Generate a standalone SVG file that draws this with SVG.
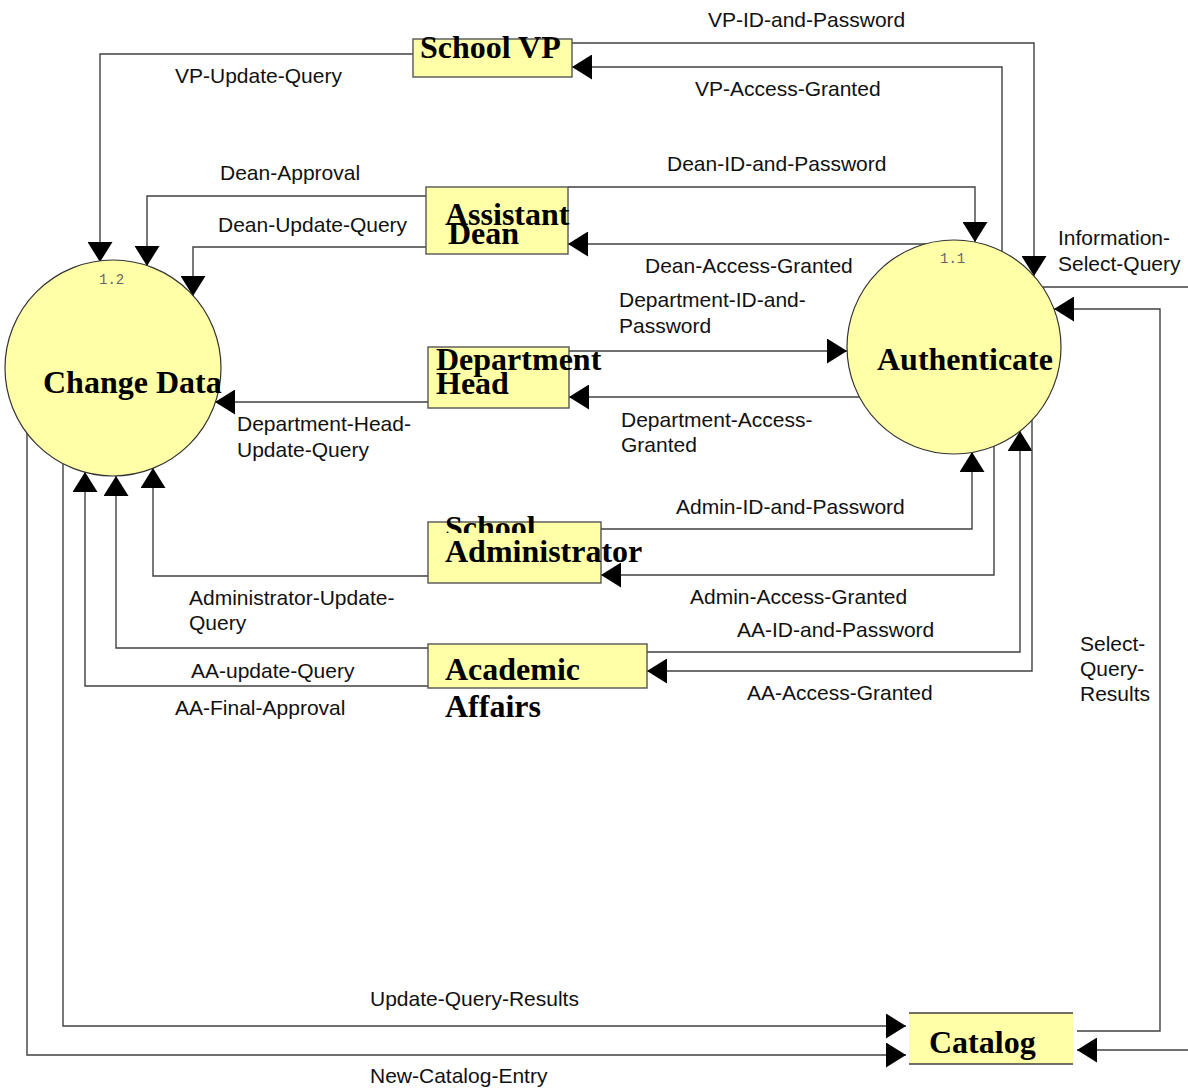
<svg xmlns="http://www.w3.org/2000/svg" width="1188" height="1091" viewBox="0 0 1188 1091">
  <style>
    .flow { fill: none; stroke: #404040; stroke-width: 1.4; marker-end: url(#head); }
    .line { fill: none; stroke: #404040; stroke-width: 1.4; }
    .box { fill: #ffffa8; stroke: #555; stroke-width: 1.4; }
    .proc { fill: #ffffa8; stroke: #333; stroke-width: 1.2; }
    .store { fill: #ffffa8; }
    .lbl { font-family: "Liberation Sans", Arial, sans-serif; font-size: 21px; fill: #111; }
    .name { font-family: "Liberation Serif", "Times New Roman", serif; font-size: 32px; font-weight: bold; fill: #000; }
    .num { font-family: "Liberation Mono", "Courier New", monospace; font-size: 14px; fill: #666; }
  </style>
  <defs>
    <marker id="head" viewBox="0 0 20 25" refX="20" refY="12.5" markerWidth="20" markerHeight="25" markerUnits="userSpaceOnUse" orient="auto">
      <path d="M0,0 L20,12.5 L0,25 z" fill="#000"/>
    </marker>
    <!-- the upper word of the administrator box is hidden below its second line -->
    <clipPath id="schoolClip">
      <rect x="420" y="480" width="200" height="53"/>
    </clipPath>
  </defs>

  <rect width="1188" height="1091" fill="#fff"/>

  <!-- data flows -->
  <g id="connectors">
    <polyline class="flow" points="413,54 100,54 100,262"/>
    <polyline class="flow" points="572,43 1034,43 1034,276"/>
    <polyline class="flow" points="1002,252 1002,67 572,67"/>
    <polyline class="flow" points="426,196 147,196 147,266"/>
    <polyline class="flow" points="426,247 193,247 193,296"/>
    <polyline class="flow" points="568,187 975,187 975,242"/>
    <polyline class="flow" points="926,244 568,244"/>
    <polyline class="flow" points="569,351 847,351"/>
    <polyline class="flow" points="859,397 569,397"/>
    <polyline class="flow" points="428,402 215,402"/>
    <polyline class="flow" points="601,529 972,529 972,452"/>
    <polyline class="flow" points="994,446 994,575 601,575"/>
    <polyline class="flow" points="428,576 153,576 153,468"/>
    <polyline class="flow" points="647,652 1020,652 1020,431"/>
    <polyline class="flow" points="1032,420 1032,671 647,671"/>
    <polyline class="flow" points="428,648 116,648 116,476"/>
    <polyline class="flow" points="428,686 85,686 85,472"/>
    <polyline class="flow" points="63,464 63,1026 906,1026"/>
    <polyline class="flow" points="27,433 27,1055 906,1055"/>
    <polyline class="flow" points="1077,1031 1160,1031 1160,309 1054,309"/>
    <polyline class="line" points="1043,287 1188,287"/>
    <polyline class="flow" points="1188,1050 1077,1050"/>
  </g>

  <!-- flow labels -->
  <g id="flow-labels" class="lbl">
    <text x="708" y="27">VP-ID-and-Password</text>
    <text x="175" y="83">VP-Update-Query</text>
    <text x="695" y="96">VP-Access-Granted</text>
    <text x="220" y="180">Dean-Approval</text>
    <text x="667" y="171">Dean-ID-and-Password</text>
    <text x="218" y="232">Dean-Update-Query</text>
    <text x="645" y="273">Dean-Access-Granted</text>
    <text x="1058" y="245">Information-</text>
    <text x="1058" y="271">Select-Query</text>
    <text x="619" y="307">Department-ID-and-</text>
    <text x="619" y="333">Password</text>
    <text x="237" y="431">Department-Head-</text>
    <text x="237" y="457">Update-Query</text>
    <text x="621" y="427">Department-Access-</text>
    <text x="621" y="452">Granted</text>
    <text x="676" y="514">Admin-ID-and-Password</text>
    <text x="189" y="605">Administrator-Update-</text>
    <text x="189" y="630">Query</text>
    <text x="690" y="604">Admin-Access-Granted</text>
    <text x="737" y="637">AA-ID-and-Password</text>
    <text x="191" y="678">AA-update-Query</text>
    <text x="747" y="700">AA-Access-Granted</text>
    <text x="175" y="715">AA-Final-Approval</text>
    <text x="1080" y="651">Select-</text>
    <text x="1080" y="676">Query-</text>
    <text x="1080" y="701">Results</text>
    <text x="370" y="1006">Update-Query-Results</text>
    <text x="370" y="1083">New-Catalog-Entry</text>
  </g>

  <!-- processes -->
  <g id="change-data">
    <circle class="proc" cx="113" cy="368" r="108"/>
    <text class="num" x="99" y="284">1.2</text>
    <text class="name" x="43" y="393">Change Data</text>
  </g>
  <g id="authenticate">
    <circle class="proc" cx="954" cy="347" r="107"/>
    <text class="num" x="940" y="263">1.1</text>
    <text class="name" x="877" y="370">Authenticate</text>
  </g>

  <!-- external entities -->
  <g id="school-vp">
    <rect class="box" x="413" y="39" width="159" height="38"/>
    <text class="name" x="420" y="58">School VP</text>
  </g>
  <g id="assistant-dean">
    <rect class="box" x="426" y="187" width="142" height="67"/>
    <text class="name" x="445" y="225">Assistant</text>
    <text class="name" x="448" y="244">Dean</text>
  </g>
  <g id="department-head">
    <rect class="box" x="428" y="347" width="141" height="61"/>
    <text class="name" x="436" y="370">Department</text>
    <text class="name" x="436" y="394">Head</text>
  </g>
  <g id="school-administrator">
    <rect class="box" x="428" y="522" width="173" height="61"/>
    <text class="name" x="445" y="538" clip-path="url(#schoolClip)">School</text>
    <text class="name" x="445" y="562">Administrator</text>
  </g>
  <g id="academic-affairs">
    <rect class="box" x="428" y="644" width="219" height="44"/>
    <text class="name" x="445" y="680">Academic</text>
    <text class="name" x="445" y="717">Affairs</text>
  </g>

  <!-- data store -->
  <g id="catalog">
    <rect class="store" x="909" y="1013" width="164" height="51"/>
    <line class="line" x1="909" y1="1013" x2="1073" y2="1013"/>
    <line class="line" x1="909" y1="1064" x2="1073" y2="1064"/>
    <text class="name" x="929" y="1053">Catalog</text>
  </g>
</svg>
